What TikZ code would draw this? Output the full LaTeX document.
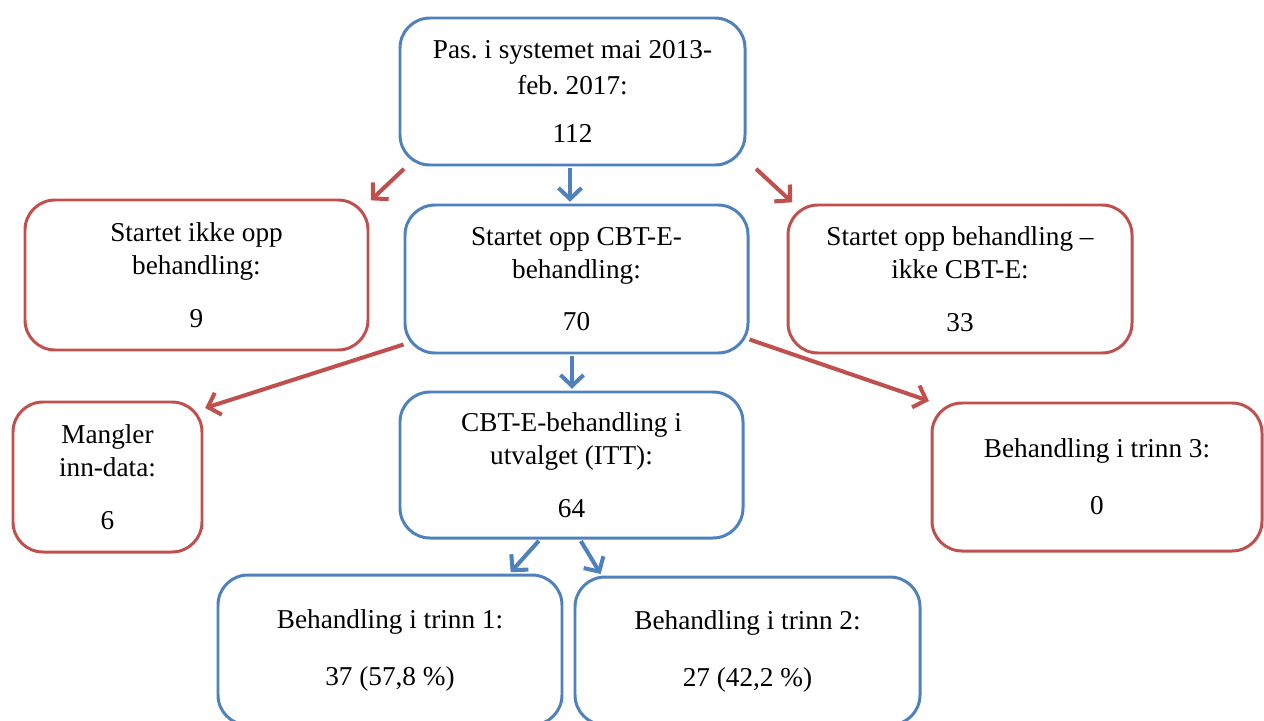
\documentclass[tikz,border=0pt]{standalone}
\usepackage{fontspec}
\setmainfont{Liberation Serif}
\usetikzlibrary{arrows.meta}

\definecolor{flowblue}{HTML}{4F81BD}
\definecolor{flowred}{HTML}{C0504D}

\tikzset{
  flowbox/.style={draw, rounded corners=0.6cm, line width=1.7pt, align=center,
    inner sep=0pt, fill=white, font=\fontsize{15.5}{18.8}\selectfont\frenchspacing},
  bluebox/.style={flowbox, draw=flowblue},
  redbox/.style={flowbox, draw=flowred},
  flowarrow/.style={line width=2.3pt, -{Straight Barb[length=0.22cm,width=0.46cm]}},
  bluearrow/.style={flowarrow, draw=flowblue},
  redarrow/.style={flowarrow, draw=flowred}
}

\begin{document}
\begin{tikzpicture}
\useasboundingbox (0,0) rectangle (25.28,-14.4);

% boxes
\node[bluebox, minimum width=6.9cm, minimum height=2.94cm] (pas) at (11.45,-1.83)
  {Pas. i systemet mai 2013-\\[1.7pt]feb. 2017:\\[9pt]112};
\node[redbox, minimum width=6.86cm, minimum height=3cm] (ikkestart) at (3.93,-5.5)
  {Startet ikke opp\\behandling:\\[11pt]9};
\node[bluebox, minimum width=6.86cm, minimum height=2.96cm] (cbte) at (11.53,-5.58)
  {Startet opp CBT-E-\\behandling:\\[11pt]70};
\node[redbox, minimum width=6.88cm, minimum height=2.96cm] (annen) at (19.2,-5.58)
  {Startet opp behandling –\\ikke CBT-E:\\[11pt]33};
\node[redbox, minimum width=3.78cm, minimum height=3cm] (mangler) at (2.15,-9.54)
  {Mangler\\inn-data:\\[11pt]6};
\node[bluebox, minimum width=6.86cm, minimum height=2.92cm] (itt) at (11.43,-9.3)
  {CBT-E-behandling i\\utvalget (ITT):\\[11pt]64};
\node[redbox, minimum width=6.6cm, minimum height=2.96cm] (trinn3) at (21.94,-9.54)
  {Behandling i trinn 3:\\[13.6pt]0};
\node[bluebox, minimum width=6.88cm, minimum height=3cm] (trinn1) at (7.8,-13.0)
  {Behandling i trinn 1:\\[13.6pt]37 (57,8 \%)};
\node[bluebox, minimum width=6.9cm, minimum height=2.96cm] (trinn2) at (14.95,-13.02)
  {Behandling i trinn 2:\\[13.6pt]27 (42,2 \%)};

% arrows
\draw[redarrow, shorten <=2pt, shorten >=1pt] ([xshift=0.16cm]pas.south west) -- ([yshift=-0.06cm]ikkestart.north east);
\draw[bluearrow, shorten <=1pt, shorten >=1pt] ([xshift=-0.05cm]pas.south) -- ([xshift=-0.05cm]pas.south |- cbte.north);
\draw[redarrow, shorten <=2pt, shorten >=1pt] ([xshift=0.14cm]pas.south east) -- ([xshift=0.14cm]annen.north west);
\draw[redarrow, shorten >=1pt] ([yshift=0.2cm]cbte.south west) -- ([yshift=-0.16cm]mangler.north east);
\draw[bluearrow, shorten <=1pt, shorten >=1pt] ([xshift=-0.09cm]cbte.south) -- ([xshift=-0.09cm]cbte.south |- itt.north);
\draw[redarrow, shorten >=1pt] ([yshift=0.3cm]cbte.south east) -- (trinn3.north west);
\draw[bluearrow, shorten <=1pt, shorten >=1pt] ([xshift=-0.63cm]itt.south) -- ([xshift=-1.08cm]trinn1.north east);
\draw[bluearrow, shorten <=1pt, shorten >=1pt] ([xshift=0.17cm]itt.south) -- ([xshift=0.56cm]trinn2.north west);
\end{tikzpicture}
\end{document}
